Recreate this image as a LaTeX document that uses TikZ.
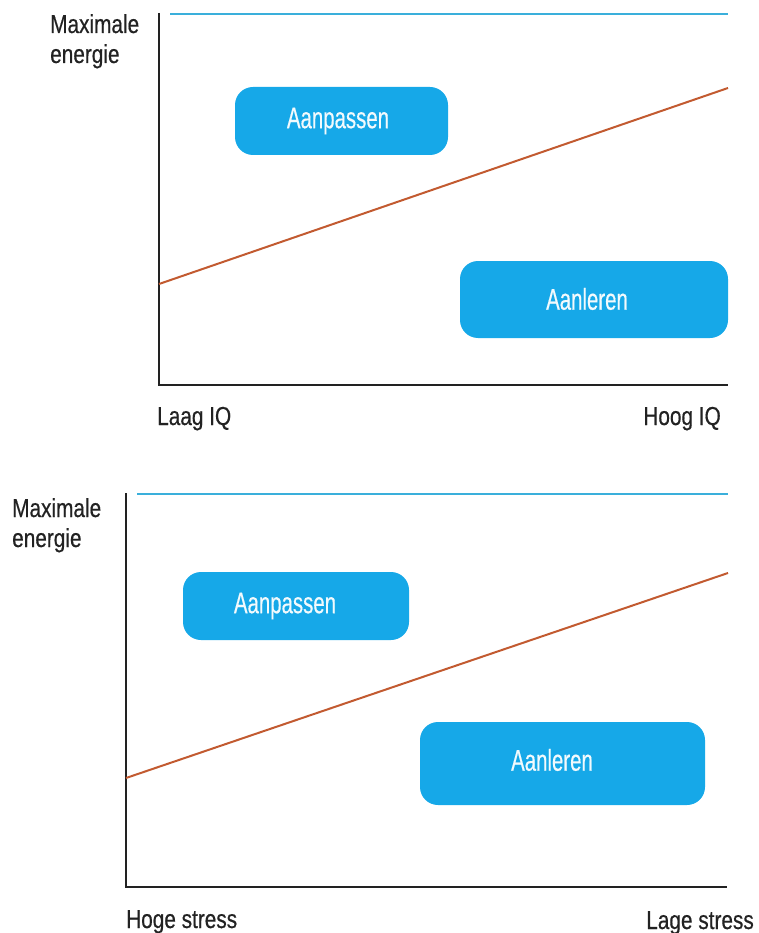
\documentclass[tikz,border=0pt]{standalone}
\usepackage{fontspec}
\setmainfont{Liberation Sans}[FakeStretch=0.8, FakeBold=0.5]
\newfontfamily\zonefont{Liberation Sans}[FakeStretch=0.68, FakeBold=0.4]
\definecolor{boxblue}{HTML}{16A8E8}
\definecolor{maxline}{HTML}{3AAFDB}
\definecolor{trend}{HTML}{C25A30}
\definecolor{axisgray}{HTML}{222222}
\definecolor{zoneink}{HTML}{F2FAFD}
\tikzset{
  axisline/.style={draw=axisgray, line width=2.4pt},
  maxlevel/.style={draw=maxline, line width=2.2pt},
  trendline/.style={draw=trend, line width=2pt},
  zone/.style={fill=boxblue, rounded corners=18pt, draw=none},
  zonetext/.style={text=zoneink, font=\zonefont\fontsize{30}{34}\selectfont},
  label/.style={text=axisgray, font=\fontsize{26}{30}\selectfont, inner sep=0pt},
}
\begin{document}
\begin{tikzpicture}[x=1pt,y=-1pt]
\useasboundingbox (0,0) rectangle (758,933);
% upper chart: energy versus IQ
\coordinate (o1) at (159,385);
\coordinate (t1) at (159,13);
\coordinate (e1) at (728,385);
\draw[axisline] (t1) -- (o1) -- (e1);
\coordinate (m1a) at (170,14);
\coordinate (m1b) at (728,14);
\draw[maxlevel] (m1a) -- (m1b);
\coordinate (r1a) at (159,284);
\coordinate (r1b) at (728,88);
\draw[trendline] (r1a) -- (r1b);
\path[zone] (235,87) rectangle (448,155);
\node[zonetext] (p1) at (338,121) {Aanpassen};
\path[zone] (460,261) rectangle (728,338);
\node[zonetext] (l1) at (587,299) {Aanleren};
\node[label, anchor=base west] (y1a) at (50,33) {Maximale};
\node[label, anchor=base west] (y1b) at (50,63) {energie};
\node[label, anchor=base west] (xa1) at (157,425) {Laag IQ};
\node[label, anchor=base east] (xb1) at (721,425) {Hoog IQ};
% lower chart: energy versus stress
\coordinate (o2) at (126,887);
\coordinate (t2) at (126,493);
\coordinate (e2) at (727,887);
\draw[axisline] (t2) -- (o2) -- (e2);
\coordinate (m2a) at (137,494);
\coordinate (m2b) at (728,494);
\draw[maxlevel] (m2a) -- (m2b);
\coordinate (r2a) at (126,778);
\coordinate (r2b) at (728,573);
\draw[trendline] (r2a) -- (r2b);
\path[zone] (183,572) rectangle (409,640);
\node[zonetext] (p2) at (285,606) {Aanpassen};
\path[zone] (420,722) rectangle (705,805);
\node[zonetext] (l2) at (552,760) {Aanleren};
\node[label, anchor=base west] (y2a) at (12,517) {Maximale};
\node[label, anchor=base west] (y2b) at (12,547) {energie};
\node[label, anchor=base west] (xa2) at (126,928) {Hoge stress};
\node[label, anchor=base east] (xb2) at (754,929) {Lage stress};
\end{tikzpicture}
\end{document}
